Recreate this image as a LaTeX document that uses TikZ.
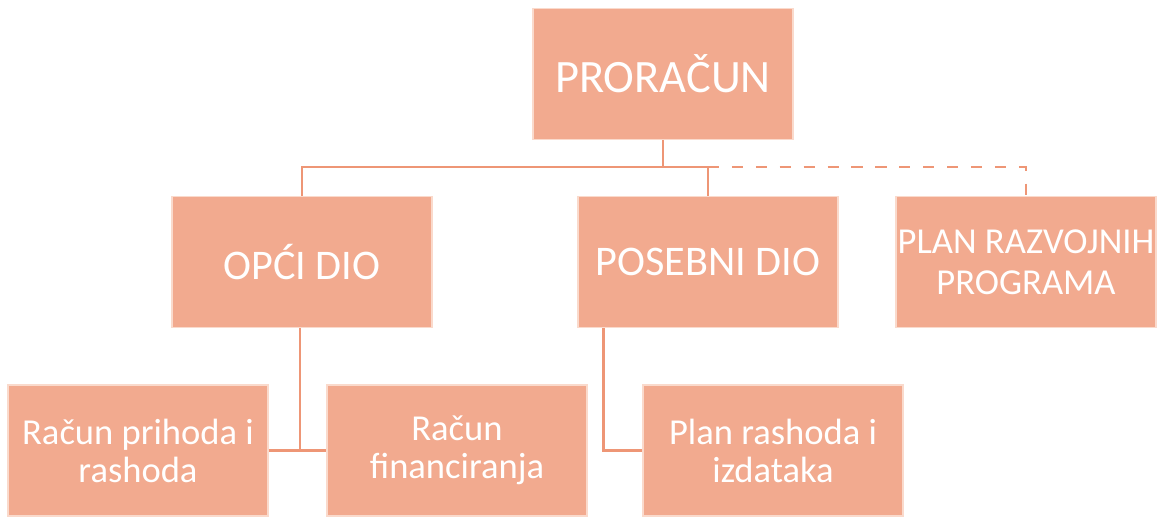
\documentclass[tikz,border=0pt]{standalone}
\usepackage{fontspec}
\setmainfont{Carlito}
\usetikzlibrary{positioning,calc}
\tikzset{every node/.append style={align=center}}
\definecolor{boxcolor}{RGB}{242, 170, 143}
\definecolor{boxedge}{RGB}{250, 218, 204}
\definecolor{linkcolor}{RGB}{238, 150, 118}
\tikzset{
  orgbox/.style={draw=boxedge, line width=0.8pt, fill=boxcolor, text=white,
    minimum width=6.5cm, minimum height=3.275cm, inner sep=0pt},
  link/.style={draw=linkcolor, line width=2pt},
}

\begin{document}
\begin{tikzpicture}[x=0.025cm, y=-0.025cm]
  \useasboundingbox (0,0) rectangle (1160,516);

  % Top box
  \node[orgbox, font=\fontsize{33}{38}\selectfont] (proracun) at (663,74) {PRORAČUN};

  % Second level
  \node[orgbox, font=\fontsize{30}{34}\selectfont] (opci) at (302,262) {OPĆI DIO};
  \node[orgbox, font=\fontsize{30}{34}\selectfont] (posebni) at (708,262) {POSEBNI DIO};
  \node[orgbox, font=\fontsize{26}{29}\selectfont] (razvoj) at (1026,262) {PLAN RAZVOJNIH\\PROGRAMA};

  % Third level
  \node[orgbox, font=\fontsize{26}{27}\selectfont] (prihodi) at (138,450.5) {Račun prihoda i\\rashoda};
  \node[orgbox, font=\fontsize{26}{27}\selectfont] (financ) at (457,450.5) {Račun\\financiranja};
  \node[orgbox, font=\fontsize{26}{27}\selectfont] (rashodi) at (773,450.5) {Plan rashoda i\\izdataka};

  % Connectors
  \coordinate (bus) at (663,167);
  \draw[link] (proracun.south) -- (bus);
  \draw[link] (bus) -| (opci.north);
  \draw[link] (bus) -| (posebni.north);
  \draw[link, dash pattern=on 8pt off 9pt] (posebni.north |- bus) -| (razvoj.north);

  \coordinate (opcidrop) at ($(opci.south)+(-2,0)$);
  \coordinate (posdrop) at ($(posebni.south west)!0.1!(posebni.south east)$);
  \draw[link] (opcidrop) -- (opcidrop |- prihodi.east);
  \draw[link] (prihodi.east) -- (financ.west);
  \draw[link] (posdrop) |- (rashodi.west);
\end{tikzpicture}
\end{document}
